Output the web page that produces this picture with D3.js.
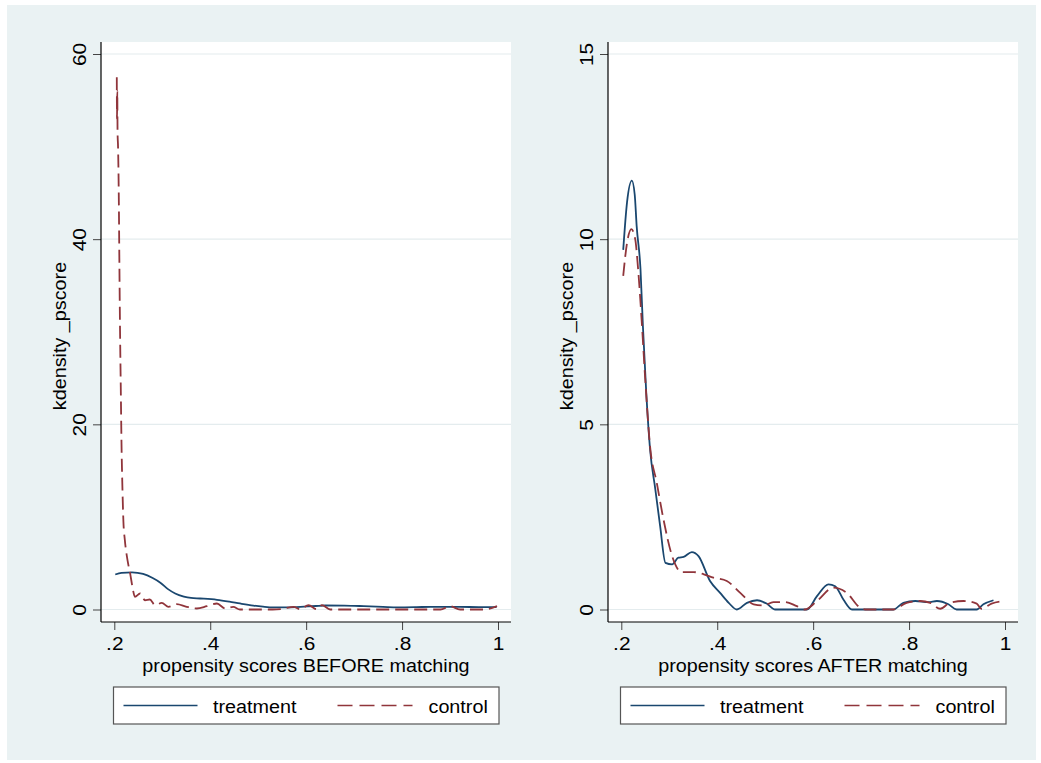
<!DOCTYPE html>
<html>
<head>
<meta charset="utf-8">
<script src="https://cdn.jsdelivr.net/npm/d3@7"></script>
<style>
  body { margin: 0; background: #fff; }
  text { font-family: "Liberation Sans", Arial, Helvetica, sans-serif; fill: #000; }
</style>
</head>
<body>
<div id="chart"></div>
<script>
// Tick values
const xTicks = [0.2, 0.4, 0.6, 0.8, 1];
const beforeYTicks = [0, 20, 40, 60];
const afterYTicks = [0, 5, 10, 15];

// Labels
const yTitle = "kdensity _pscore";
const beforeTitle = "propensity scores BEFORE matching";
const afterTitle = "propensity scores AFTER matching";
const seriesNames = ["treatment", "control"];

// Kernel density curves, [pscore, density]
const beforeTreatment = [
    [0.202, 3.78], [0.215, 3.95], [0.237, 4.02], [0.26, 3.85], [0.28, 3.4], [0.296, 2.9],
    [0.312, 2.2], [0.327, 1.73], [0.345, 1.4], [0.36, 1.25], [0.379, 1.19], [0.414, 1.05],
    [0.44, 0.85], [0.462, 0.65], [0.49, 0.42], [0.51, 0.3], [0.532, 0.22], [0.56, 0.22],
    [0.588, 0.29], [0.62, 0.38], [0.64, 0.43], [0.68, 0.42], [0.72, 0.36], [0.76, 0.28],
    [0.79, 0.22], [0.83, 0.25], [0.86, 0.29], [0.92, 0.28], [0.96, 0.26], [0.997, 0.25]
];
const beforeControl = [
    [0.2052, 57.5], [0.2056, 53], [0.2062, 56], [0.2068, 51.5], [0.2078, 50], [0.2095, 44],
    [0.2105, 38], [0.212, 30], [0.2135, 24], [0.215, 18], [0.217, 13], [0.219, 9.5],
    [0.222, 7.5], [0.228, 5.2], [0.233, 3.9], [0.238, 2.4], [0.243, 1.37], [0.254, 1.73],
    [0.264, 1.0], [0.274, 1.08], [0.285, 0.47], [0.299, 0.72], [0.313, 0.29], [0.33, 0.58],
    [0.351, 0.29], [0.372, 0.11], [0.393, 0.36], [0.414, 0.65], [0.431, 0.11], [0.448, 0.29],
    [0.462, 0], [0.53, 0], [0.549, 0.05], [0.574, 0.29], [0.587, 0.02], [0.605, 0.47],
    [0.622, 0.02], [0.633, 0.47], [0.65, 0], [0.88, 0], [0.9, 0.36], [0.921, 0],
    [0.97, 0], [0.998, 0.36]
];
const afterTreatment = [
    [0.204, 9.71], [0.212, 11.0], [0.222, 11.58], [0.228, 11.2], [0.232, 10.36], [0.24, 9.19],
    [0.245, 7.66], [0.252, 5.86], [0.26, 4.32], [0.271, 3.24], [0.281, 2.25], [0.292, 1.26],
    [0.306, 1.22], [0.319, 1.4], [0.33, 1.42], [0.347, 1.55], [0.361, 1.44], [0.385, 0.77],
    [0.406, 0.45], [0.424, 0.18], [0.441, 0], [0.462, 0.18], [0.483, 0.25], [0.503, 0.16],
    [0.521, 0], [0.587, 0], [0.608, 0.36], [0.632, 0.68], [0.646, 0.63], [0.663, 0.27],
    [0.681, 0], [0.767, 0], [0.788, 0.18], [0.813, 0.23], [0.84, 0.2], [0.858, 0.23],
    [0.882, 0.14], [0.899, 0], [0.941, 0], [0.955, 0.14], [0.976, 0.25]
];
const afterControl = [
    [0.204, 9.01], [0.212, 9.9], [0.221, 10.27], [0.229, 10.0], [0.235, 9.2], [0.242, 7.9],
    [0.25, 6.2], [0.26, 4.4], [0.274, 3.42], [0.288, 2.43], [0.306, 1.44], [0.326, 1.01],
    [0.351, 1.01], [0.372, 0.95], [0.392, 0.86], [0.42, 0.77], [0.448, 0.45], [0.476, 0.14],
    [0.497, 0.11], [0.517, 0.2], [0.542, 0.2], [0.566, 0.09], [0.583, 0], [0.608, 0.23],
    [0.642, 0.59], [0.67, 0.45], [0.698, 0.05], [0.712, 0], [0.767, 0], [0.795, 0.18],
    [0.823, 0.23], [0.844, 0.18], [0.865, 0.02], [0.885, 0.18], [0.913, 0.23], [0.941, 0.16],
    [0.951, 0.02], [0.972, 0.16], [0.997, 0.23]
];

const navy = "#1a476f";
const maroon = "#90353b";
const bg = "#eaf2f3";
const stretch = "scale(1.13,1)";   // text in the picture is drawn a bit wide
const fontSize = 17.5;
const tickFont = 18.5;

const svg = d3.select("#chart")
    .append("svg")
    .attr("width", 1041)
    .attr("height", 763);

svg.append("rect")
    .attr("x", 7).attr("y", 5)
    .attr("width", 1029).attr("height", 755)
    .attr("fill", bg);

function drawPanel(left, yTicks, xTitle, treat, ctrl) {
    const plotW = 410, top = 42, bottom = 622;
    const g = svg.append("g").attr("transform", `translate(${left},0)`);

    const x = d3.scaleLinear().domain([0.2, 1]).range([13.3, 397]);
    const y = d3.scaleLinear().domain([0, d3.max(yTicks)]).range([609.5, 54]);

    g.append("rect")
        .attr("x", 0).attr("y", top)
        .attr("width", plotW).attr("height", bottom - top)
        .attr("fill", "#fff");

    // grid lines
    g.selectAll(".grid")
        .data(yTicks)
        .enter().append("line")
        .attr("x1", 0).attr("x2", plotW)
        .attr("y1", d => y(d)).attr("y2", d => y(d))
        .attr("stroke", "#e4ecee")
        .attr("stroke-width", 1.2);

    // y axis
    const yAxis = g.append("g")
        .call(d3.axisLeft(y).tickValues(yTicks).tickSize(8).tickSizeOuter(0).tickFormat(d3.format("d")));
    yAxis.select(".domain").remove();
    yAxis.selectAll("line").attr("stroke", "#444");
    yAxis.selectAll("text")
        .attr("x", 0).attr("y", -15).attr("dy", 0)
        .attr("text-anchor", "middle")
        .attr("transform", "rotate(-90) " + stretch)
        .attr("font-size", tickFont)
        .attr("font-family", null)
        .attr("fill", "#000");

    // x axis
    const xAxis = g.append("g")
        .attr("transform", `translate(0,${bottom})`)
        .call(d3.axisBottom(x).tickValues(xTicks).tickSize(8).tickSizeOuter(0)
            .tickFormat(d => d === 1 ? "1" : d3.format(".1f")(d).replace(/^0/, "")));
    xAxis.select(".domain").remove();
    xAxis.selectAll("line").attr("stroke", "#444");
    xAxis.selectAll("text")
        .attr("y", 28).attr("dy", 0)
        .attr("transform", stretch)
        .attr("font-size", tickFont)
        .attr("font-family", null)
        .attr("fill", "#000");

    // axis lines
    g.append("line")
        .attr("x1", 0).attr("x2", 0).attr("y1", top).attr("y2", bottom)
        .attr("stroke", "#000").attr("stroke-width", 1.2);
    g.append("line")
        .attr("x1", 0).attr("x2", plotW).attr("y1", bottom).attr("y2", bottom)
        .attr("stroke", "#000").attr("stroke-width", 1.2);

    // titles
    g.append("text")
        .attr("transform", `translate(${plotW / 2},672) ${stretch}`)
        .attr("text-anchor", "middle")
        .attr("font-size", fontSize)
        .text(xTitle);
    g.append("text")
        .attr("transform", `translate(-35,${(top + bottom) / 2 + 4}) rotate(-90) ${stretch}`)
        .attr("text-anchor", "middle")
        .attr("font-size", fontSize)
        .text(yTitle);

    // density curves
    const line = d3.line()
        .x(d => x(d[0]))
        .y(d => y(d[1]))
        .curve(d3.curveMonotoneX);

    g.append("path")
        .datum(treat)
        .attr("fill", "none")
        .attr("stroke", navy)
        .attr("stroke-width", 1.8)
        .attr("d", line);

    g.append("path")
        .datum(ctrl)
        .attr("fill", "none")
        .attr("stroke", maroon)
        .attr("stroke-width", 1.8)
        .attr("stroke-dasharray", "13,6")
        .attr("d", line);

    // legend
    const lg = g.append("g").attr("transform", `translate(12.5,687)`);
    lg.append("rect")
        .attr("width", 385.5).attr("height", 37)
        .attr("fill", "#fff")
        .attr("stroke", "#555")
        .attr("stroke-width", 1.2);
    lg.append("line")
        .attr("x1", 10).attr("x2", 84).attr("y1", 18.5).attr("y2", 18.5)
        .attr("stroke", navy).attr("stroke-width", 1.6);
    lg.append("line")
        .attr("x1", 224).attr("x2", 299).attr("y1", 18.5).attr("y2", 18.5)
        .attr("stroke", maroon).attr("stroke-width", 1.6)
        .attr("stroke-dasharray", "15,7");
    lg.selectAll(".lab")
        .data(seriesNames)
        .enter().append("text")
        .attr("transform", (d, i) => `translate(${i === 0 ? 99.5 : 315},25.5) ${stretch}`)
        .attr("font-size", fontSize)
        .text(d => d);
}

drawPanel(101, beforeYTicks, beforeTitle, beforeTreatment, beforeControl);
drawPanel(608, afterYTicks, afterTitle, afterTreatment, afterControl);
</script>
</body>
</html>
